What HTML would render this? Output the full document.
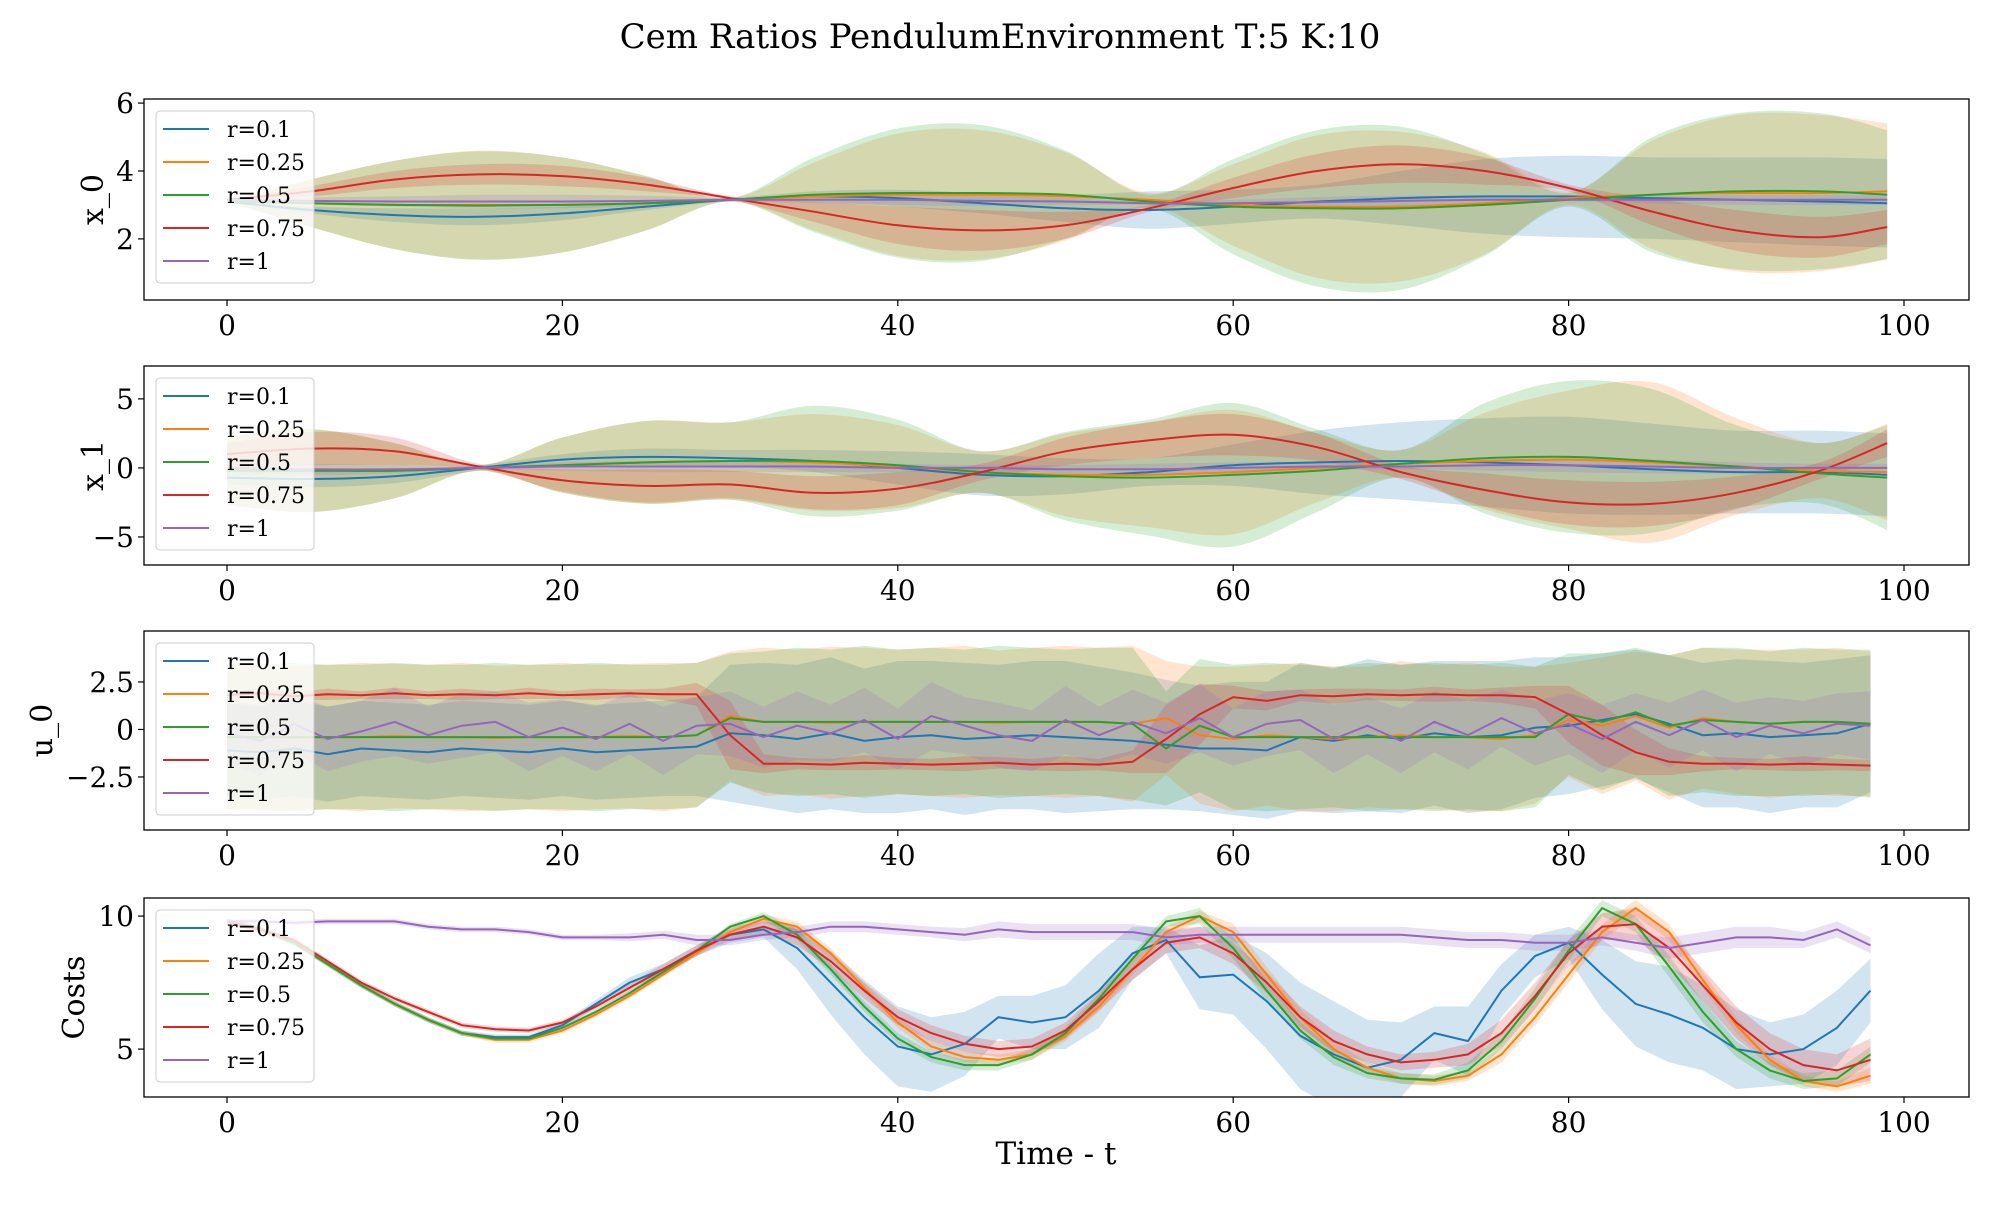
<!DOCTYPE html>
<html><head><meta charset="utf-8"><style>
body{margin:0;background:#fff}
svg text{font-family:"DejaVu Serif","Liberation Serif",serif;fill:#000}
</style></head><body>
<svg id="fig" width="2000" height="1200" xmlns="http://www.w3.org/2000/svg">
<text x="1000" y="48" font-size="34" text-anchor="middle">Cem Ratios PendulumEnvironment T:5 K:10</text>
<text x="1056" y="1164" font-size="31" text-anchor="middle">Time - t</text>
</svg>
<script>
const seriesNames=["r=0.1","r=0.25","r=0.5","r=0.75","r=1"];
const colors=["#1f77b4","#ff7f0e","#2ca02c","#d62728","#9467bd"];
const xTicks=[0,20,40,60,80,100];
const tCoarse=[0,5,10,15,20,25,30,35,40,45,50,55,60,65,70,75,80,85,90,95,99];
const tFine=[0,2,4,6,8,10,12,14,16,18,20,22,24,26,28,30,32,34,36,38,40,42,44,46,48,50,52,54,56,58,60,62,64,66,68,70,72,74,76,78,80,82,84,86,88,90,92,94,96,98];
// x_0
const x0Mean=[
[3.1,2.85,2.7,2.65,2.75,2.95,3.15,3.25,3.2,3.05,2.9,2.85,2.95,3.1,3.2,3.25,3.25,3.2,3.15,3.1,3.05],
[3.1,3.05,3.0,3.0,3.0,3.05,3.15,3.25,3.3,3.3,3.25,3.15,3.0,2.95,2.95,3.05,3.2,3.3,3.35,3.35,3.4],
[3.1,3.05,3.0,2.98,3.0,3.05,3.15,3.3,3.35,3.35,3.3,3.1,2.95,2.9,2.9,3.0,3.15,3.3,3.4,3.4,3.3],
[3.15,3.4,3.75,3.9,3.85,3.6,3.2,2.8,2.4,2.25,2.4,2.9,3.5,4.0,4.2,4.0,3.5,2.8,2.25,2.05,2.35],
[3.15,3.12,3.1,3.1,3.1,3.12,3.15,3.15,3.15,3.12,3.1,3.05,3.05,3.08,3.12,3.15,3.15,3.15,3.15,3.15,3.15]];
const x0Std=[
[0,0.1,0.2,0.25,0.2,0.1,0.05,0.15,0.25,0.3,0.4,0.55,0.5,0.5,0.8,1.1,1.2,1.2,1.25,1.3,1.3],
[0,0.7,1.3,1.6,1.4,0.8,0.05,1.0,1.8,1.9,1.3,0.2,1.2,2.1,2.2,1.5,0.2,1.6,2.3,2.3,2.0],
[0,0.7,1.3,1.6,1.4,0.8,0.05,1.1,1.9,2.0,1.3,0.2,1.4,2.3,2.4,1.5,0.2,1.7,2.3,2.3,1.9],
[0,0.15,0.25,0.3,0.3,0.2,0.05,0.3,0.55,0.6,0.4,0.1,0.3,0.5,0.55,0.4,0.1,0.4,0.6,0.6,0.5],
[0,0.1,0.15,0.2,0.2,0.15,0.05,0.1,0.15,0.15,0.1,0.05,0.1,0.15,0.15,0.1,0.05,0.1,0.15,0.15,0.15]];
// x_1
const x1Mean=[
[-0.7,-0.8,-0.6,0,0.6,0.8,0.7,0.5,0,-0.5,-0.6,-0.3,0.2,0.4,0.5,0.4,0.2,-0.1,-0.3,-0.3,-0.5],
[-0.2,-0.2,-0.2,0,0.2,0.4,0.5,0.4,0.1,-0.3,-0.5,-0.5,-0.3,0,0.3,0.5,0.6,0.4,0.1,-0.2,-0.3],
[-0.2,-0.2,-0.2,0,0.2,0.4,0.5,0.5,0.2,-0.3,-0.6,-0.7,-0.5,-0.2,0.3,0.7,0.8,0.5,0.1,-0.4,-0.7],
[1.0,1.4,1.2,0.1,-0.9,-1.3,-1.2,-1.8,-1.5,-0.3,1.2,2.0,2.4,1.5,-0.3,-1.6,-2.5,-2.6,-1.8,-0.2,1.8],
[0,-0.1,-0.1,0,0.1,0.1,0.1,0.1,0,0,-0.1,-0.1,0,0.1,0.1,0.2,0.2,0.1,0,0,0]];
const x1Std=[
[0.5,0.6,0.5,0.2,0.4,0.6,0.6,0.8,1.2,1.5,1.3,1.0,1.5,2.3,2.8,3.2,3.5,3.3,3.0,3.0,3.0],
[2.5,3.0,2.0,0.2,2.0,3.0,2.8,3.5,3.0,1.5,3.0,3.8,4.5,2.5,1.0,3.5,5.0,5.8,3.5,2.0,3.5],
[2.5,3.0,2.0,0.2,2.0,3.0,2.8,4.0,3.3,1.5,3.2,4.2,5.2,3.0,1.0,4.0,5.5,5.2,3.0,2.2,3.8],
[0.8,1.2,1.0,0.2,0.8,1.2,1.0,1.2,1.2,0.6,1.0,1.3,1.5,1.0,0.5,1.2,1.6,1.6,1.2,0.6,1.0],
[0.3,0.4,0.3,0.1,0.3,0.4,0.4,0.4,0.3,0.2,0.3,0.4,0.4,0.3,0.2,0.4,0.5,0.5,0.4,0.3,0.3]];
// u_0
const u0Mean=[
[-1.1,-1.2,-1.0,-1.3,-1.0,-1.1,-1.2,-1.0,-1.1,-1.2,-1.0,-1.2,-1.1,-1.0,-0.9,-0.2,-0.3,-0.5,-0.2,-0.6,-0.4,-0.3,-0.5,-0.4,-0.3,-0.4,-0.5,-0.6,-0.8,-1.0,-1.0,-1.1,-0.4,-0.6,-0.3,-0.5,-0.2,-0.4,-0.3,0.1,0.2,0.5,0.8,0.3,-0.3,-0.2,-0.4,-0.3,-0.2,0.3],
[-0.4,-0.4,-0.45,-0.4,-0.4,-0.35,-0.4,-0.4,-0.45,-0.4,-0.4,-0.4,-0.35,-0.4,-0.3,0.7,0.4,0.4,0.35,0.4,0.4,0.4,0.4,0.35,0.4,0.4,0.4,0.3,0.6,-0.3,-0.5,-0.3,-0.4,-0.5,-0.4,-0.3,-0.4,-0.4,-0.5,-0.3,0.5,0.2,0.7,0.1,0.6,0.4,0.3,0.4,0.4,0.3],
[-0.4,-0.4,-0.4,-0.4,-0.4,-0.4,-0.4,-0.4,-0.4,-0.4,-0.4,-0.4,-0.4,-0.4,-0.3,0.6,0.4,0.4,0.4,0.4,0.4,0.4,0.4,0.4,0.4,0.4,0.4,0.3,-1.0,0.2,-0.4,-0.4,-0.4,-0.4,-0.4,-0.4,-0.4,-0.4,-0.4,-0.4,0.8,0.4,0.9,0.2,0.5,0.4,0.3,0.4,0.4,0.3],
[1.8,1.9,1.75,1.85,1.8,1.9,1.8,1.85,1.8,1.9,1.8,1.85,1.9,1.85,1.85,-0.3,-1.8,-1.8,-1.85,-1.75,-1.8,-1.85,-1.8,-1.75,-1.85,-1.8,-1.85,-1.7,-0.5,0.8,1.7,1.5,1.8,1.75,1.85,1.8,1.85,1.8,1.8,1.7,0.8,-0.3,-1.2,-1.7,-1.8,-1.8,-1.85,-1.8,-1.85,-1.9],
[-0.2,-0.6,0.3,-0.5,-0.1,0.4,-0.3,0.2,0.4,-0.4,0.1,-0.5,0.3,-0.6,0.2,0.3,-0.4,0.2,-0.2,0.5,-0.5,0.7,0.2,-0.3,-0.6,0.5,-0.3,0.4,-0.2,0.6,-0.4,0.3,0.5,-0.5,0.2,-0.6,0.4,-0.3,0.6,-0.2,0.3,-0.5,0.4,-0.3,0.5,-0.4,0.2,-0.2,0.3,0.2]];
const u0Std=[
[2.5,2.5,2.5,2.5,2.5,2.5,2.5,2.5,2.5,2.5,2.5,2.5,2.5,2.5,2.6,3.6,3.8,3.9,4.0,3.8,4.0,3.9,4.0,3.8,3.9,4.0,3.8,3.6,3.4,3.3,3.5,3.6,3.9,3.8,4.0,3.9,3.8,4.0,3.9,3.7,3.6,3.5,3.4,3.6,3.8,3.9,4.0,3.8,3.9,3.6],
[3.8,3.9,3.8,3.8,3.9,3.8,3.8,3.9,3.8,3.8,3.9,3.8,3.8,3.9,3.8,3.4,3.9,3.8,4.0,3.9,3.8,3.9,4.0,3.8,3.9,4.0,3.9,4.1,3.0,3.6,3.8,3.7,3.9,3.8,3.7,3.9,3.8,3.9,3.8,3.6,3.0,3.6,3.4,3.8,3.7,3.8,3.9,3.8,3.9,3.8],
[3.8,3.8,3.9,3.8,3.8,3.9,3.8,3.8,3.9,3.8,3.8,3.9,3.8,3.8,3.8,3.4,3.7,3.9,3.8,4.0,3.8,3.9,3.8,4.0,3.9,3.8,3.9,4.0,3.0,3.5,3.8,3.9,3.8,3.7,3.9,3.8,3.9,3.8,3.9,3.7,3.2,3.6,3.4,3.7,3.8,3.9,3.8,3.9,3.8,3.9],
[0.2,0.3,0.2,0.3,0.2,0.3,0.2,0.3,0.2,0.3,0.2,0.3,0.2,0.3,0.6,1.8,0.5,0.3,0.3,0.4,0.3,0.3,0.4,0.3,0.3,0.4,0.3,0.6,1.8,1.6,0.6,0.5,0.3,0.4,0.3,0.3,0.4,0.3,0.4,0.6,1.5,1.6,1.2,0.7,0.4,0.3,0.3,0.4,0.3,0.3],
[1.6,1.8,1.5,1.7,1.6,1.8,1.5,1.7,1.6,1.8,1.5,1.7,1.6,1.8,1.5,1.7,1.6,1.8,1.5,1.7,1.6,1.8,1.5,1.7,1.6,1.8,1.5,1.7,1.6,1.8,1.5,1.7,1.6,1.8,1.5,1.7,1.6,1.8,1.5,1.7,1.6,1.8,1.5,1.7,1.6,1.8,1.5,1.7,1.6,1.8]];
// costs
const costMean=[
[9.8,9.5,9.0,8.2,7.4,6.7,6.1,5.6,5.45,5.45,5.9,6.7,7.5,8.0,8.7,9.3,9.5,8.8,7.5,6.2,5.1,4.8,5.2,6.2,6.0,6.2,7.2,8.6,9.1,7.7,7.8,6.8,5.5,4.8,4.3,4.6,5.6,5.3,7.2,8.5,9.0,7.8,6.7,6.3,5.8,5.0,4.8,5.0,5.8,7.2],
[9.8,9.5,9.0,8.2,7.4,6.7,6.1,5.6,5.35,5.35,5.7,6.3,7.0,7.8,8.6,9.4,9.9,9.6,8.6,7.3,6.0,5.1,4.7,4.6,4.8,5.5,6.6,8.0,9.4,10.0,9.4,7.8,6.2,5.0,4.3,3.9,3.8,4.0,4.8,6.2,7.8,9.4,10.3,9.4,7.6,5.9,4.6,3.8,3.6,4.0],
[9.8,9.5,9.0,8.2,7.4,6.7,6.1,5.6,5.4,5.4,5.8,6.4,7.1,7.9,8.7,9.6,10.0,9.3,8.0,6.6,5.4,4.7,4.4,4.4,4.8,5.6,6.9,8.4,9.8,10.0,8.8,7.2,5.7,4.7,4.1,3.9,3.85,4.2,5.3,6.9,8.7,10.3,9.7,8.1,6.4,5.0,4.2,3.8,3.9,4.8],
[9.8,9.5,9.1,8.3,7.5,6.9,6.4,5.9,5.75,5.7,6.0,6.6,7.3,8.0,8.7,9.3,9.6,9.2,8.3,7.2,6.2,5.6,5.2,5.0,5.1,5.7,6.8,8.0,9.0,9.2,8.6,7.5,6.2,5.3,4.8,4.5,4.6,4.8,5.6,7.0,8.6,9.6,9.7,8.8,7.4,6.0,5.0,4.4,4.2,4.6],
[9.8,9.8,9.75,9.8,9.8,9.8,9.6,9.5,9.5,9.4,9.2,9.2,9.2,9.3,9.1,9.1,9.3,9.4,9.6,9.6,9.5,9.4,9.3,9.5,9.4,9.4,9.4,9.4,9.2,9.3,9.3,9.3,9.3,9.3,9.3,9.3,9.2,9.1,9.1,9.0,9.0,9.2,9.0,8.8,9.0,9.2,9.2,9.1,9.5,8.9]];
const costStd=[
[0.1,0.1,0.1,0.1,0.1,0.1,0.1,0.1,0.1,0.1,0.1,0.15,0.2,0.2,0.2,0.3,0.3,0.8,1.2,1.4,1.5,1.4,1.2,0.8,1.0,1.2,1.4,1.0,0.5,1.2,1.5,1.8,2.0,2.0,1.8,1.4,1.0,1.3,1.0,0.8,0.6,1.3,1.6,1.8,1.6,1.5,1.2,1.3,1.4,1.2],
[0.1,0.1,0.1,0.1,0.1,0.1,0.1,0.1,0.1,0.1,0.1,0.1,0.1,0.1,0.1,0.1,0.15,0.2,0.2,0.2,0.2,0.2,0.2,0.2,0.2,0.2,0.2,0.2,0.2,0.2,0.3,0.3,0.3,0.3,0.2,0.2,0.2,0.2,0.3,0.3,0.3,0.3,0.3,0.3,0.3,0.3,0.2,0.2,0.2,0.3],
[0.1,0.1,0.1,0.1,0.1,0.1,0.1,0.1,0.1,0.1,0.1,0.1,0.1,0.1,0.1,0.1,0.15,0.2,0.2,0.2,0.2,0.2,0.2,0.2,0.2,0.2,0.2,0.2,0.2,0.3,0.4,0.4,0.3,0.3,0.2,0.2,0.2,0.3,0.3,0.4,0.4,0.3,0.3,0.4,0.4,0.3,0.3,0.3,0.3,0.3],
[0.1,0.1,0.1,0.1,0.1,0.1,0.1,0.1,0.1,0.1,0.1,0.1,0.15,0.2,0.2,0.2,0.25,0.3,0.3,0.3,0.3,0.3,0.3,0.3,0.3,0.3,0.35,0.4,0.4,0.4,0.4,0.4,0.4,0.4,0.3,0.3,0.3,0.4,0.5,0.5,0.5,0.5,0.6,0.6,0.6,0.6,0.6,0.6,0.6,0.8],
[0.1,0.1,0.1,0.1,0.1,0.1,0.1,0.1,0.1,0.1,0.1,0.1,0.15,0.15,0.2,0.2,0.2,0.2,0.2,0.2,0.2,0.2,0.25,0.3,0.3,0.3,0.3,0.3,0.3,0.3,0.3,0.3,0.3,0.3,0.3,0.3,0.3,0.3,0.3,0.3,0.3,0.3,0.3,0.4,0.4,0.4,0.4,0.3,0.3,0.3]];
const x0Ticks=[2,4,6], x1Ticks=[-5,0,5], u0Ticks=[-2.5,0,2.5], costTicks=[5,10];

const svg=document.getElementById('fig');
const NS='http://www.w3.org/2000/svg';
function el(tag,attrs,parent){const e=document.createElementNS(NS,tag);for(const k in attrs)e.setAttribute(k,attrs[k]);(parent||svg).appendChild(e);return e;}
const X0=144,X1=1969;
const xs=t=>227+(1904-227)*t/100;

function smoothPath(pts){
  let d='M'+pts[0][0].toFixed(1)+','+pts[0][1].toFixed(1);
  for(let i=0;i<pts.length-1;i++){
    const p0=pts[Math.max(0,i-1)],p1=pts[i],p2=pts[i+1],p3=pts[Math.min(pts.length-1,i+2)];
    const c1=[p1[0]+(p2[0]-p0[0])/6,p1[1]+(p2[1]-p0[1])/6],c2=[p2[0]-(p3[0]-p1[0])/6,p2[1]-(p3[1]-p1[1])/6];
    d+='C'+c1.map(v=>v.toFixed(1))+' '+c2.map(v=>v.toFixed(1))+' '+p2.map(v=>v.toFixed(1));
  }
  return d;
}
function linePath(pts,smooth){return smooth?smoothPath(pts):'M'+pts.map(p=>p[0].toFixed(1)+','+p[1].toFixed(1)).join('L');}

function panel(cfg){
  const {top,bot,vmin,vmax,ts,mean,std,ticks,label,smooth,name}=cfg;
  const ys=v=>bot-(v-vmin)/(vmax-vmin)*(bot-top);
  const g=el('g',{},svg);
  
  
  const clip=el('clipPath',{id:'c'+name},g);
  el('rect',{x:X0,y:top,width:X1-X0,height:bot-top},clip);
  const plot=el('g',{'clip-path':'url(#c'+name+')'},g);
  for(let s=0;s<5;s++){
    const up=ts.map((t,i)=>[xs(t),ys(mean[s][i]+std[s][i])]);
    const lo=ts.map((t,i)=>[xs(t),ys(mean[s][i]-std[s][i])]).reverse();
    const d=linePath(up,smooth)+'L'+linePath(lo,smooth).slice(1)+'Z';
    const b=el('path',{d:d,fill:colors[s],'fill-opacity':0.2,stroke:'none'},plot);
    
    
  }
  for(let s=0;s<5;s++){
    const pts=ts.map((t,i)=>[xs(t),ys(mean[s][i])]);
    const l=el('path',{d:linePath(pts,smooth),fill:'none',stroke:colors[s],'stroke-width':2},plot);
    
    
  }
  const fr=el('rect',{x:X0,y:top,width:X1-X0,height:bot-top,fill:'none',stroke:'#000','stroke-width':1.3},g);
  
  
  xTicks.forEach(t=>{
    el('line',{x1:xs(t),x2:xs(t),y1:bot,y2:bot+6,stroke:'#000','stroke-width':1.2},g);
    const tx=el('text',{x:xs(t),y:bot+35,'font-size':28,'text-anchor':'middle'},g);
    tx.textContent=t;
    
    
  });
  ticks.forEach(v=>{
    el('line',{x1:X0-6,x2:X0,y1:ys(v),y2:ys(v),stroke:'#000','stroke-width':1.2},g);
    const tx=el('text',{x:X0-10,y:ys(v)+10,'font-size':28,'text-anchor':'end'},g);
    tx.textContent=(v<0?'\u2212'+Math.abs(v):v);
    
    
  });
  const yl=el('text',{x:0,y:0,'font-size':30,'text-anchor':'middle',transform:'translate('+(cfg.ylx)+','+((top+bot)/2)+') rotate(-90)'},g);
  yl.textContent=label;
  
  
  const lg=el('g',{},g);
  
  
  el('rect',{x:156,y:top+12,width:158,height:172,rx:4,fill:'#fff','fill-opacity':0.8,stroke:'#ccc','stroke-width':1},lg);
  seriesNames.forEach((n,i)=>{
    const y=top+30+i*33;
    const e=el('g',{},lg);
    
    
    el('line',{x1:163,x2:209,y1:y,y2:y,stroke:colors[i],'stroke-width':2},e);
    const t=el('text',{x:227,y:y+8,'font-size':22},e);
    t.textContent=n;
  });
}
panel({name:'x0',top:99,bot:300,vmin:0.2,vmax:6.12,ts:tCoarse,mean:x0Mean,std:x0Std,ticks:x0Ticks,label:'x_0',smooth:true,ylx:103});
panel({name:'x1',top:366,bot:565,vmin:-7.03,vmax:7.38,ts:tCoarse,mean:x1Mean,std:x1Std,ticks:x1Ticks,label:'x_1',smooth:true,ylx:103});
panel({name:'u0',top:631,bot:830,vmin:-5.29,vmax:5.18,ts:tFine,mean:u0Mean,std:u0Std,ticks:u0Ticks,label:'u_0',smooth:false,ylx:52});
panel({name:'costs',top:898,bot:1097,vmin:3.2,vmax:10.68,ts:tFine,mean:costMean,std:costStd,ticks:costTicks,label:'Costs',smooth:false,ylx:84});
</script>
</body></html>
